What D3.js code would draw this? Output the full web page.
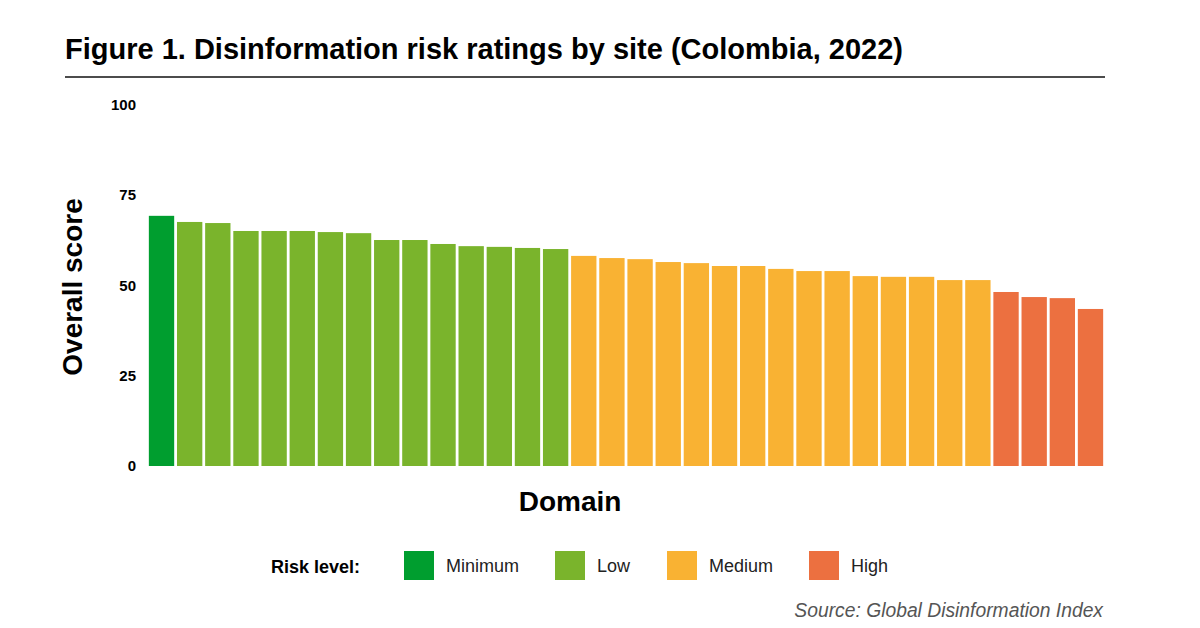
<!DOCTYPE html>
<html><head><meta charset="utf-8">
<script src="https://cdn.jsdelivr.net/npm/d3@7"></script>
<style>body{margin:0;background:#fff;font-family:"Liberation Sans",Arial,sans-serif;}</style>
</head><body><svg id="c" width="1200" height="628"></svg>
<script>
const scores=[69.3,67.6,67.3,65.1,65.1,65.1,64.8,64.5,62.6,62.6,61.5,60.9,60.7,60.4,60.1,
58.2,57.6,57.3,56.5,56.2,55.4,55.4,54.6,54.0,54.0,52.6,52.4,52.4,51.5,51.5,
48.2,46.8,46.5,43.5];
const levels=["Minimum","Low","Low","Low","Low","Low","Low","Low","Low","Low","Low","Low","Low","Low","Low",
"Medium","Medium","Medium","Medium","Medium","Medium","Medium","Medium","Medium","Medium","Medium","Medium","Medium","Medium","Medium",
"High","High","High","High"];
const legendLabels=["Minimum","Low","Medium","High"];
const legendColors=["#009e2f","#7ab42c","#f9b233","#ec7040"];
const yTicks=[0,25,50,75,100];
const svg=d3.select("#c");
const color=d3.scaleOrdinal(legendLabels,legendColors);
const x=d3.scaleBand().domain(d3.range(scores.length)).range([148,1104]).paddingInner(0.1).paddingOuter(0.03);
const y=d3.scaleLinear().domain([0,100]).range([466,105]);
svg.append("text").attr("x",65).attr("y",59).attr("font-size",29).attr("font-weight","bold").text("Figure 1. Disinformation risk ratings by site (Colombia, 2022)");
svg.append("line").attr("x1",65).attr("x2",1105).attr("y1",77).attr("y2",77).attr("stroke","#111").attr("stroke-width",1.3);
svg.selectAll("text.tick").data(yTicks).join("text").attr("x",136).attr("y",d=>y(d)+5).attr("text-anchor","end").attr("font-size",15).attr("font-weight","bold").text(d=>d);
svg.selectAll("rect.bar").data(scores).join("rect").attr("x",(d,i)=>x(i)).attr("width",x.bandwidth()).attr("y",d=>y(d)).attr("height",d=>y(0)-y(d)).attr("fill",(d,i)=>color(levels[i]));
svg.append("text").attr("transform","translate(82,287) rotate(-90)").attr("text-anchor","middle").attr("font-size",28).attr("font-weight","bold").text("Overall score");
svg.append("text").attr("x",570).attr("y",511).attr("text-anchor","middle").attr("font-size",28).attr("font-weight","bold").text("Domain");
svg.append("text").attr("x",360).attr("y",573).attr("text-anchor","end").attr("font-size",18).attr("font-weight","bold").text("Risk level:");
const lx=[404,555,667,809];
const lg=svg.selectAll("g.lg").data(legendLabels).join("g").attr("transform",(d,i)=>`translate(${lx[i]},551)`);
lg.append("rect").attr("width",30).attr("height",29).attr("fill",(d,i)=>legendColors[i]);
lg.append("text").attr("x",42).attr("y",21).attr("font-size",18).attr("fill","#222").text(d=>d);
svg.append("text").attr("x",1103).attr("y",617).attr("text-anchor","end").attr("font-size",19.3).attr("font-style","italic").attr("fill","#555").text("Source: Global Disinformation Index");
</script></body></html>
